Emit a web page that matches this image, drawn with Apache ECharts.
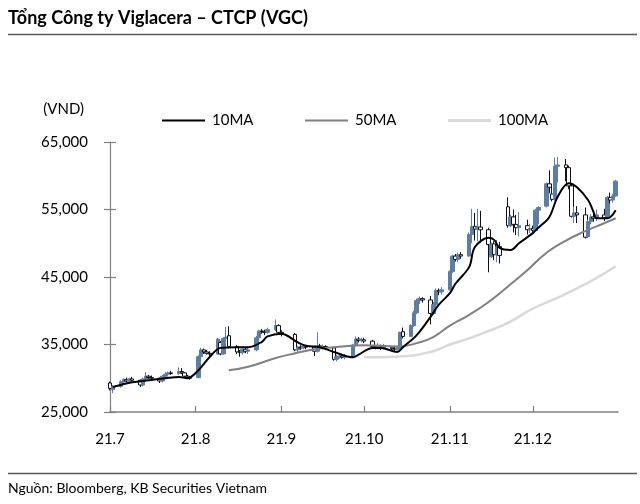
<!DOCTYPE html>
<html><head><meta charset="utf-8">
<script src="https://cdn.jsdelivr.net/npm/echarts@6/dist/echarts.min.js"></script>
<style>html,body{margin:0;padding:0;background:#fff}#c{width:640px;height:504px}</style>
</head><body><div id="c"></div>
<script>
const dates = [
'2021-07-01','2021-07-02','2021-07-05','2021-07-06','2021-07-07','2021-07-08','2021-07-09','2021-07-12','2021-07-13','2021-07-14','2021-07-15','2021-07-16','2021-07-19','2021-07-20','2021-07-21','2021-07-22','2021-07-23','2021-07-26','2021-07-27','2021-07-28','2021-07-29','2021-07-30',
'2021-08-02','2021-08-03','2021-08-04','2021-08-05','2021-08-06','2021-08-09','2021-08-10','2021-08-11','2021-08-12','2021-08-13','2021-08-16','2021-08-17','2021-08-18','2021-08-19','2021-08-20','2021-08-23','2021-08-24','2021-08-25','2021-08-26','2021-08-27','2021-08-30','2021-08-31',
'2021-09-01','2021-09-06','2021-09-07','2021-09-08','2021-09-09','2021-09-10','2021-09-13','2021-09-14','2021-09-15','2021-09-16','2021-09-17','2021-09-20','2021-09-21','2021-09-22','2021-09-23','2021-09-24','2021-09-27','2021-09-28','2021-09-29','2021-09-30',
'2021-10-01','2021-10-04','2021-10-05','2021-10-06','2021-10-07','2021-10-08','2021-10-11','2021-10-12','2021-10-13','2021-10-14','2021-10-15','2021-10-18','2021-10-19','2021-10-20','2021-10-21','2021-10-22','2021-10-25','2021-10-26','2021-10-27','2021-10-28','2021-10-29',
'2021-11-01','2021-11-02','2021-11-03','2021-11-04','2021-11-05','2021-11-08','2021-11-09','2021-11-10','2021-11-11','2021-11-12','2021-11-15','2021-11-16','2021-11-17','2021-11-18','2021-11-19','2021-11-22','2021-11-23','2021-11-24','2021-11-25','2021-11-26','2021-11-29','2021-11-30',
'2021-12-01','2021-12-02','2021-12-03','2021-12-06','2021-12-07','2021-12-08','2021-12-09','2021-12-10','2021-12-13','2021-12-14','2021-12-15','2021-12-16','2021-12-17','2021-12-20','2021-12-21','2021-12-22','2021-12-23','2021-12-24','2021-12-27','2021-12-28','2021-12-29','2021-12-30','2021-12-31'
];
const open = [
29300,28300,28800,29500,29800,29600,29900,29700,29000,29900,30300,30100,30000,29600,30300,30600,30800,30700,31000,30800,30300,30100,
30100,33200,34200,33900,33700,33600,35300,33600,35900,36300,34700,33900,33800,34300,34000,34200,36000,37000,36900,36800,37200,37800,
36800,36500,34200,34600,34500,34700,34600,34000,34800,34600,34700,34500,32800,33200,33300,33100,33300,34900,35800,35600,
35700,35500,34700,34600,34700,34500,34600,34400,34300,34500,36900,36200,37800,39700,41500,41800,41600,39600,40900,43000,42800,
43100,45800,48100,47600,48300,48100,51300,52500,52100,52400,52000,48000,49900,48300,49500,55400,52600,53900,52800,52300,52600,52000,
52200,51900,54900,55500,58800,57300,56500,61400,61600,61200,58500,54000,54500,54200,51000,53200,53900,53700,54200,53800,56800,56400,57000
];
const close = [
28500,28800,29500,29800,29600,29900,29700,29000,29900,30300,30100,30000,29600,30300,30600,30800,30700,31000,30800,30300,30100,30000,
33200,34200,33900,33700,33600,35800,33600,35900,36100,34700,33900,33800,34300,34000,34200,36000,37000,36900,36800,37200,37800,36800,
36500,34200,34600,34500,34700,34600,34000,34800,34600,34700,34500,32800,33200,33300,33100,33300,34900,35800,35600,35700,
35500,34700,34600,34700,34500,34600,34400,34300,34500,36800,36200,37800,39700,41500,41800,41600,39600,40900,43000,42800,43100,
45800,48100,47600,48300,48100,51300,52500,52100,52400,52000,49800,49900,48300,49500,48200,52600,53900,52800,52300,52600,52000,52200,
51900,54900,55300,58800,58300,56500,61400,61600,61200,58500,54000,54500,54200,50900,53200,53900,53700,54200,53800,56800,56400,57000,59200
];
const low = [
28200,27800,28600,29200,29400,29400,29500,28700,28800,29700,29900,29800,29300,29400,30100,30400,30500,30500,30600,30100,29900,29800,
30000,33000,33600,33500,33300,33500,33400,33500,35500,34400,33600,33200,33500,33700,33600,34000,35800,36600,36400,36600,37000,36500,
36200,34000,33800,34200,34300,34300,33300,33800,34300,34300,34200,32600,32500,32900,32900,32800,33200,34700,35300,35300,
35200,34400,34300,34400,34200,34300,34000,34000,34100,34400,35900,36100,37600,39500,41000,41200,38000,39400,40700,42300,42400,
43000,45600,47300,47200,47700,48000,50000,50400,50300,50100,45700,47800,47500,47200,47000,52300,52400,51600,51200,51000,51300,51500,
51400,51800,52800,55300,57400,56200,56300,59000,59200,58000,53800,53000,53000,50700,50800,52800,53200,53300,53300,53600,55900,56000,56900
];
const high = [
29500,29000,29700,30000,30100,30100,30200,29800,30100,30900,30500,30400,30100,30500,30900,31000,31100,31600,31500,30900,30500,30300,
33400,34500,34400,34200,34000,36000,35500,36100,37600,37700,34900,34200,34400,34600,34500,36300,37200,37300,37200,37500,38700,38000,
37100,36700,34800,34900,35000,34900,34800,36800,35100,35000,34900,34700,33500,33600,33500,33600,35100,36200,36100,36000,
36000,35700,34900,35200,35000,35100,34800,34700,34800,36900,37500,38000,40000,41800,42100,42000,42200,41300,43300,43300,43500,
46000,48300,48400,48600,48700,51600,55100,54500,55100,54800,52300,50100,50300,50500,50200,56800,54200,55000,54200,54600,53500,52900,
52600,55100,55500,59000,60800,58500,62700,62800,62500,61500,58800,55400,55500,55300,53500,54300,54800,55000,55100,57000,57500,57300,59400
];

const ma10Dates = ['2021-07-02','2021-07-09','2021-07-15','2021-07-21','2021-07-26','2021-07-29','2021-08-02','2021-08-06','2021-08-10','2021-08-16','2021-08-20','2021-08-25','2021-08-27','2021-09-01','2021-09-07','2021-09-10','2021-09-15','2021-09-20','2021-09-27','2021-09-29','2021-10-04','2021-10-07','2021-10-13','2021-10-15','2021-10-20','2021-10-25','2021-10-28','2021-11-01','2021-11-03','2021-11-08','2021-11-10','2021-11-15','2021-11-17','2021-11-19','2021-11-23','2021-11-26','2021-12-01','2021-12-03','2021-12-07','2021-12-10','2021-12-14','2021-12-17','2021-12-21','2021-12-23','2021-12-24','2021-12-28','2021-12-31'];
const ma10 = [28700,29400,29700,30000,30200,30000,31200,33100,34500,34600,34600,35400,36200,36600,35300,34800,34600,33900,33100,33500,34500,34500,33900,34600,36400,39100,40900,42600,44000,46500,49400,50800,50500,49300,49000,50000,51500,52300,53900,56900,58900,58300,56400,54600,53700,53700,54900];

const ma50Dates = ['2021-08-13','2021-08-20','2021-08-30','2021-09-06','2021-09-13','2021-09-20','2021-10-01','2021-10-13','2021-10-20','2021-10-26','2021-11-01','2021-11-08','2021-11-15','2021-11-22','2021-11-29','2021-12-06','2021-12-13','2021-12-20','2021-12-27','2021-12-31'];
const ma50 = [31200,31700,33000,33700,34300,34600,34900,34700,35200,36100,37800,39400,41300,43600,46000,48600,50400,51800,53000,53700];

const ma100Dates = ['2021-10-01','2021-10-13','2021-10-25','2021-11-01','2021-11-08','2021-11-15','2021-11-22','2021-12-01','2021-12-13','2021-12-23','2021-12-31'];
const ma100 = [33100,33200,33900,35000,35900,37000,38200,40300,42500,44600,46600];

const yTicks = [25000, 35000, 45000, 55000, 65000];
const legendNames = ['10MA','50MA','100MA'];

const FONT = 'Lato';
const chart = echarts.init(document.getElementById('c'), null, {renderer:'canvas'});
const yMin = yTicks[0], yMax = yTicks[yTicks.length-1], yStep = yTicks[1]-yTicks[0];
const monthLabel = v => { const d = new Date(v); return String(d.getFullYear()).slice(2) + '.' + (d.getMonth()+1); };

chart.setOption({
  animation:false,
  backgroundColor:'#fff',
  textStyle:{fontFamily:FONT},
  grid:{left:110, right:22, top:142, bottom:92, containLabel:false},
  legend: legendNames.map((n,i)=>({
    data:[n], left:[157,300,443][i], top:108, icon:'rect', itemWidth:43, itemHeight:[2.2,2.2,3][i], itemGap:0,
    textStyle:{fontFamily:FONT, fontSize:15, color:'#000', padding:[0,0,0,2]}
  })),
  xAxis:{
    type:'time', min:'2021-07-01', max:'2021-12-31 20:00', splitNumber:6,
    axisLine:{show:true, lineStyle:{color:'#808080', width:1.5}},
    axisTick:{show:true, inside:true, length:6, lineStyle:{color:'#808080', width:1.2}},
    axisLabel:{formatter:monthLabel, margin:20, fontSize:15, color:'#000', fontFamily:FONT, hideOverlap:false},
    splitLine:{show:false}, minorTick:{show:false}
  },
  yAxis:[{
    type:'value', min:yMin, max:yMax, interval:yStep, position:'left',
    axisLine:{show:true, lineStyle:{color:'#808080', width:1.2}},
    axisTick:{show:true, length:6, lineStyle:{color:'#808080', width:1.2}},
    axisLabel:{formatter:v=>v.toLocaleString('en-US'), margin:22, fontSize:15, color:'#000', fontFamily:FONT},
    splitLine:{show:false}
  },{
    type:'value', min:yMin, max:yMax, interval:yStep, position:'left', offset:0,
    axisLine:{show:false},
    axisTick:{show:true, inside:true, length:6, lineStyle:{color:'#808080', width:1.2}},
    axisLabel:{show:false}, splitLine:{show:false}
  }],
  series:[
    {
      type:'candlestick', name:'VGC', barWidth:4,
      encode:{x:0, y:[1,2,3,4]},
      data: dates.map((d,i)=>[d, open[i], close[i], low[i], high[i]]),
      itemStyle:{color:'#5b7ea9', color0:'#ffffff', borderColor:'#5b7ea9', borderColor0:'#111', borderWidth:1}
    },
    {type:'line', name:'100MA', data:ma100Dates.map((d,i)=>[d,ma100[i]]), smooth:0.5, symbol:'none', lineStyle:{color:'#d9d9d9', width:2.5}, itemStyle:{color:'#d9d9d9'}, z:3},
    {type:'line', name:'50MA', data:ma50Dates.map((d,i)=>[d,ma50[i]]), smooth:0.5, symbol:'none', lineStyle:{color:'#808080', width:2}, itemStyle:{color:'#808080'}, z:4},
    {type:'line', name:'10MA', data:ma10Dates.map((d,i)=>[d,ma10[i]]), smooth:0.35, symbol:'none', lineStyle:{color:'#000', width:2}, itemStyle:{color:'#000'}, z:5}
  ],
  graphic:[
    {type:'text', left:8, top:9, style:{text:'Tổng Công ty Viglacera – CTCP (VGC)', font:'bold 18px Lato', fill:'#000'}},
    {type:'line', shape:{x1:8, y1:34.5, x2:637, y2:34.5}, style:{stroke:'#555', lineWidth:1.5}},
    {type:'text', x:84, y:109, style:{text:'(VND)', font:'15px Lato', fill:'#000', align:'right', verticalAlign:'middle'}},
    {type:'line', shape:{x1:8, y1:473.5, x2:637, y2:473.5}, style:{stroke:'#555', lineWidth:1.5}},
    {type:'text', left:8, top:481, style:{text:'Nguồn: Bloomberg, KB Securities Vietnam', font:'14px Lato', fill:'#000'}}
  ]
});
</script></body></html>
